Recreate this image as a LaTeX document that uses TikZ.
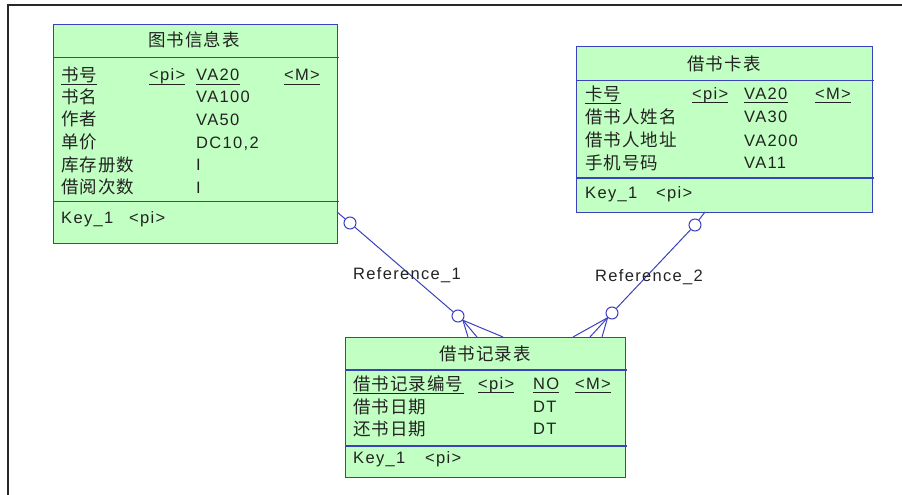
\documentclass[tikz,border=0pt]{standalone}
\usepackage{fontspec}
\setmainfont{Liberation Sans}[LetterSpace=8]
\newfontfamily\cjk{Noto Sans CJK SC}[LetterSpace=6]
\definecolor{pdblue}{RGB}{58,64,190}
\definecolor{pdgreen}{RGB}{194,255,194}
\definecolor{txt}{RGB}{35,35,35}
\definecolor{frm}{RGB}{40,40,40}
\newcommand\ulmark[1]{\draw[ul] ([yshift=-3pt]#1.base west) -- ([yshift=-3pt]#1.base east);}
\tikzset{
  tbl/.style={draw=pdblue, fill=pdgreen, line width=1.2pt, inner sep=0pt, anchor=north west},
  sepl/.style={draw=pdblue, line width=1.2pt},
  cj/.style={inner sep=0pt, anchor=base west, font=\cjk\fontsize{17.5}{18}\selectfont, text=txt},
  lt/.style={inner sep=0pt, anchor=base west, font=\fontsize{16.5}{18}\selectfont, text=txt},
  ttl/.style={cj, anchor=base},
  ul/.style={draw=txt, line width=0.9pt},
  rel/.style={draw=pdblue, line width=1pt},
  card/.style={circle, draw=pdblue, fill=white, line width=1pt, minimum size=12pt, inner sep=0pt},
}
\begin{document}
\begin{tikzpicture}[x=1pt, y=-1pt]
\useasboundingbox (0,0) rectangle (902,495);
% frame
\draw[frm, line width=1.4pt] (8,495) -- (8,5) -- (902,5);

% ---------- table 1 ----------
\node[tbl, minimum width=284pt, minimum height=218.5pt] (t1) at (53,24) {};
\draw[sepl] (53,57.3) -- (339,57.3);
\draw[sepl] (53,201.7) -- (339,201.7);
\node[ttl] (t1t) at (194,46.5) {图书信息表};
\node[cj] (t1n1) at (61,81.5) {书号};
\node[lt] (t1p1) at (149,81) {<pi>};
\node[lt] (t1d1) at (196,81) {VA20};
\node[lt] (t1m1) at (284,81) {<M>};
\ulmark{t1n1}\ulmark{t1p1}\ulmark{t1d1}\ulmark{t1m1}
\node[cj] (t1n2) at (61,103) {书名};
\node[lt] (t1d2) at (196,102.5) {VA100};
\node[cj] (t1n3) at (61,125.5) {作者};
\node[lt] (t1d3) at (196,125) {VA50};
\node[cj] (t1n4) at (61,148.5) {单价};
\node[lt] (t1d4) at (196,148) {DC10,2};
\node[cj] (t1n5) at (61,171) {库存册数};
\node[lt] (t1d5) at (196,170.5) {I};
\node[cj] (t1n6) at (61,193.5) {借阅次数};
\node[lt] (t1d6) at (196,193) {I};
\node[lt] (t1k) at (61,223) {Key\_1};
\node[lt] (t1kp) at (129,223) {<pi>};

% ---------- table 2 ----------
\node[tbl, minimum width=296pt, minimum height=166pt] (t2) at (576,46) {};
\draw[sepl] (576,80.7) -- (874,80.7);
\draw[sepl] (576,178) -- (874,178);
\node[ttl] (t2t) at (724,70.5) {借书卡表};
\node[cj] (t2n1) at (585,100) {卡号};
\node[lt] (t2p1) at (692,99.5) {<pi>};
\node[lt] (t2d1) at (744,99.5) {VA20};
\node[lt] (t2m1) at (815,99.5) {<M>};
\ulmark{t2n1}\ulmark{t2p1}\ulmark{t2d1}\ulmark{t2m1}
\node[cj] (t2n2) at (585,123) {借书人姓名};
\node[lt] (t2d2) at (744,122.5) {VA30};
\node[cj] (t2n3) at (585,146.5) {借书人地址};
\node[lt] (t2d3) at (744,146) {VA200};
\node[cj] (t2n4) at (585,169) {手机号码};
\node[lt] (t2d4) at (744,168.5) {VA11};
\node[lt] (t2k) at (585,198) {Key\_1};
\node[lt] (t2kp) at (656,198) {<pi>};

% ---------- table 3 ----------
\node[tbl, minimum width=280pt, minimum height=140pt] (t3) at (345,337) {};
\draw[sepl] (345,370) -- (627,370);
\draw[sepl] (345,446) -- (627,446);
\node[ttl] (t3t) at (485,360) {借书记录表};
\node[cj] (t3n1) at (353,390) {借书记录编号};
\node[lt] (t3p1) at (478,389.5) {<pi>};
\node[lt] (t3d1) at (533,389.5) {NO};
\node[lt] (t3m1) at (575,389.5) {<M>};
\ulmark{t3n1}\ulmark{t3p1}\ulmark{t3d1}\ulmark{t3m1}
\node[cj] (t3n2) at (353,413) {借书日期};
\node[lt] (t3d2) at (533,412.5) {DT};
\node[cj] (t3n3) at (353,435) {还书日期};
\node[lt] (t3d3) at (533,434.5) {DT};
\node[lt] (t3k) at (353,463) {Key\_1};
\node[lt] (t3kp) at (425,463) {<pi>};

% ---------- Reference_1 ----------
\coordinate (r1s) at (337,212);
\node[card] (c1) at (350,223) {};
\node[card] (c2) at (458,316) {};
\coordinate (f1a) at (468,337);
\coordinate (f1b) at (477,337);
\coordinate (f1c) at (503,337);
\draw[rel] (r1s) -- (c1);
\draw[rel] (c1) -- (c2);
\draw[rel] (c2.-41) -- (f1a);
\draw[rel] (c2.-41) -- (f1b);
\draw[rel] (c2.-41) -- (f1c);
\node[lt] (l1) at (353,279) {Reference\_1};

% ---------- Reference_2 ----------
\coordinate (r2s) at (705,212);
\node[card] (c3) at (695,225) {};
\node[card] (c4) at (612,313) {};
\coordinate (f2a) at (573,337);
\coordinate (f2b) at (590,337);
\coordinate (f2c) at (602,337);
\draw[rel] (r2s) -- (c3);
\draw[rel] (c3) -- (c4);
\draw[rel] (c4.-133) -- (f2a);
\draw[rel] (c4.-133) -- (f2b);
\draw[rel] (c4.-133) -- (f2c);
\node[lt] (l2) at (595,281) {Reference\_2};
\end{tikzpicture}
\end{document}
